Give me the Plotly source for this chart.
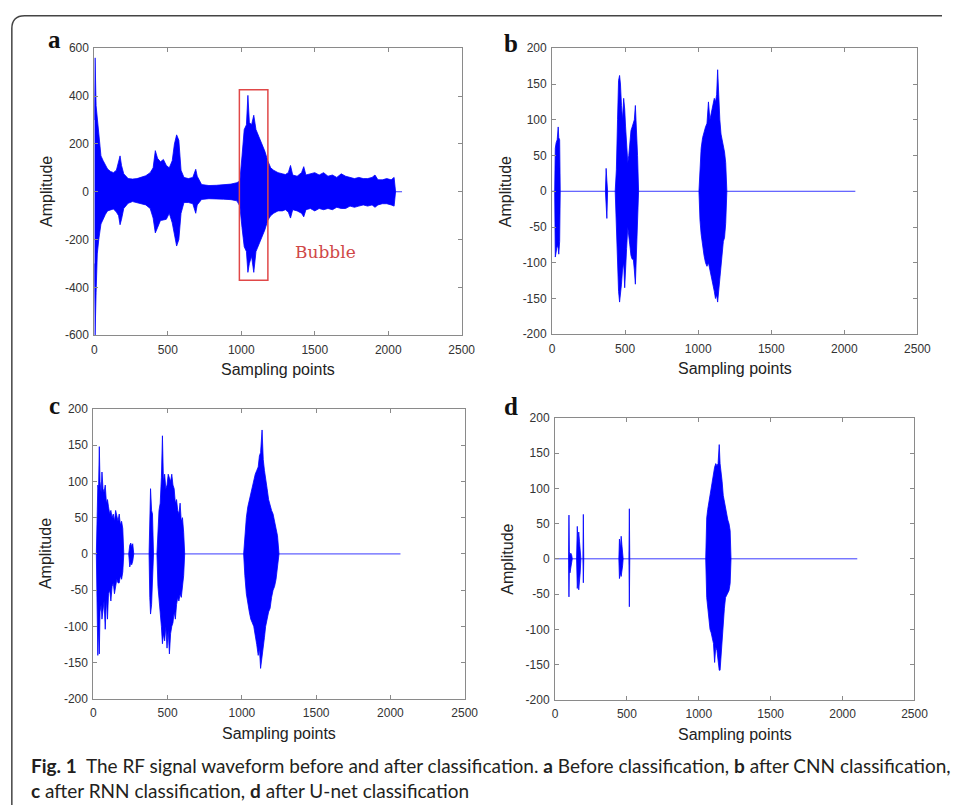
import plotly.graph_objects as go

W, H = 956, 812
BLUE = "#0000ff"

# ---------------- data (envelopes) ----------------
x_ticks = [0, 500, 1000, 1500, 2000, 2500]
x_ticktext = ["0", "500", "1000", "1500", "2000", "2500"]
ya_ticks = [-600, -400, -200, 0, 200, 400, 600]
ya_ticktext = ["-600", "-400", "-200", "0", "200", "400", "600"]
y_ticks = [-200, -150, -100, -50, 0, 50, 100, 150, 200]
y_ticktext = ["-200", "-150", "-100", "-50", "0", "50", "100", "150", "200"]

# Panel a: before classification (upper / lower envelope of the raw RF signal)
a_x = [0, 5, 12, 20, 30, 45, 60, 75, 90, 110, 130, 150, 165, 175, 185, 200, 230, 260, 290,
       320, 350, 380, 400, 415, 430, 450, 470, 490, 510, 530, 545, 560, 575, 590, 610, 640,
       670, 690, 700, 730, 780, 830, 880, 930, 970, 990, 1005, 1020, 1035, 1045, 1055, 1070,
       1085, 1100, 1120, 1140, 1160, 1180, 1190, 1200, 1220, 1250, 1280, 1300, 1320, 1335,
       1350, 1380, 1410, 1425, 1440, 1470, 1500, 1530, 1560, 1590, 1620, 1650, 1680, 1710,
       1740, 1770, 1800, 1830, 1860, 1890, 1910, 1930, 1960, 1990, 2020, 2040, 2050]
a_upper = [300, 560, 360, 300, 240, 150, 130, 110, 95, 85, 80, 90, 120, 150, 110, 75, 55, 53, 55,
           62, 67, 80, 100, 172, 140, 125, 135, 110, 100, 130, 200, 238, 215, 90, 60, 55,
           60, 94, 65, 30, 26, 27, 30, 32, 38, 45, 150, 260, 280, 403, 290, 280,
           320, 260, 230, 200, 170, 130, 110, 100, 90, 80, 75, 72, 80, 110,
           70, 65, 80, 105, 70, 75, 80, 70, 80, 65, 70, 60, 75, 65,
           60, 55, 60, 55, 55, 60, 70, 50, 50, 55, 50, 60, 0]
a_lower = [-300, -600, -420, -260, -200, -135, -115, -95, -80, -77, -72, -85, -100, -138, -115, -70, -48, -41, -45,
           -50, -55, -70, -110, -172, -150, -120, -118, -115, -90, -130, -180, -227, -200, -90, -45, -45,
           -50, -90, -55, -32, -29, -29, -31, -33, -38, -60, -150, -230, -250, -337, -300, -270,
           -337, -250, -220, -190, -160, -120, -110, -100, -90, -80, -80, -75, -85, -110,
           -75, -80, -90, -105, -75, -70, -80, -70, -75, -70, -75, -65, -70, -70,
           -60, -65, -60, -55, -60, -55, -65, -55, -50, -50, -55, -60, 0]
a_zero_end = 2094
a_box_x = [987, 1181]
a_box_y = [-370, 427]

# Panel b: after CNN classification (bursts)
b_x = [
    [18, 22, 28, 35, 42, 46, 52, 56],
    [365, 370, 375, 380],
    [432, 440, 448, 455, 462, 468, 475, 482, 490, 497, 503, 510, 518, 525, 532, 540, 548, 556,
     563, 570, 577, 585, 592],
    [1005, 1012, 1020, 1030, 1040, 1050, 1060, 1070, 1080, 1090, 1100, 1110, 1118, 1126, 1133,
     1140, 1148, 1156, 1165, 1172, 1180, 1188, 1196],
]
b_upper = [
    [0, 60, 68, 72, 90, 75, 72, 0],
    [0, 32, 15, 0],
    [0, 30, 100, 155, 162, 150, 120, 100, 130, 115, 90, 60, 40, 50, 70, 85, 90, 95,
     100, 120, 90, 50, 0],
    [0, 40, 60, 75, 85, 90, 95, 125, 100, 110, 120, 130, 125, 135, 170,
     130, 100, 80, 70, 60, 55, 40, 0],
]
b_lower = [
    [0, -92, -85, -75, -80, -88, -70, 0],
    [0, -20, -38, 0],
    [0, -30, -90, -140, -155, -150, -130, -110, -100, -135, -120, -80, -50, -60, -75, -90, -95, -95,
     -110, -130, -100, -50, 0],
    [0, -40, -60, -75, -90, -100, -105, -100, -110, -120, -130, -140, -150, -145, -155,
     -140, -120, -100, -85, -70, -65, -45, 0],
]
b_zero_end = 2075

# Panel c: after RNN classification (bursts)
c_x = [
    [20, 25, 30, 35, 40, 45, 52, 58, 65, 72, 80, 88, 95, 102, 110, 118, 126, 134, 142, 150, 158,
     166, 174, 182, 190, 198, 205],
    [238, 245, 252, 258, 265, 272],
    [375, 380, 385, 392, 398, 405],
    [428, 435, 442, 450, 458, 465, 472, 480, 488, 496, 504, 512, 520, 528, 536, 544, 552, 560,
     568, 576, 584, 592, 600, 608, 615],
    [1012, 1020, 1030, 1040, 1050, 1060, 1070, 1080, 1090, 1100, 1110, 1118, 1126, 1136, 1144,
     1152, 1160, 1170, 1180, 1190, 1200, 1210, 1220, 1230, 1240, 1250],
]
c_upper = [
    [0, 60, 95, 90, 148, 100, 85, 113, 90, 85, 95, 70, 75, 65, 55, 60, 50, 55, 45, 60, 50,
     45, 55, 40, 45, 35, 0],
    [0, 12, 15, 10, 14, 0],
    [0, 70, 90, 60, 55, 0],
    [0, 40, 60, 70, 105, 163, 100, 110, 90, 95, 110, 105, 100, 110, 95, 90, 70, 75,
     60, 55, 70, 45, 50, 30, 0],
    [0, 30, 50, 65, 75, 80, 90, 100, 110, 115, 120, 135, 140, 171, 130,
     115, 100, 90, 75, 65, 60, 55, 45, 35, 25, 0],
]
c_lower = [
    [0, -80, -140, -100, -138, -80, -70, -90, -75, -65, -104, -60, -90, -55, -50, -65, -45, -40,
     -55, -45, -35, -40, -40, -30, -35, -25, 0],
    [0, -18, -12, -15, -10, 0],
    [0, -60, -83, -70, -50, 0],
    [0, -45, -60, -80, -100, -124, -110, -120, -100, -130, -105, -138, -110, -100, -95, -80, -90, -70,
     -60, -65, -55, -60, -50, -30, 0],
    [0, -30, -55, -70, -80, -90, -95, -100, -110, -125, -140, -130, -158, -145, -130,
     -115, -100, -90, -80, -75, -60, -50, -45, -35, -20, 0],
]
c_zero_end = 2068

# Panel d: after U-net classification (bursts)
d_x = [
    [94, 97, 100, 104, 110, 116, 120],
    [150, 155, 160, 165, 170, 175, 180],
    [194, 197, 200],
    [444, 448, 455, 460, 465, 470, 474],
    [514, 517, 520],
    [1048, 1055, 1062, 1070, 1078, 1086, 1094, 1102, 1110, 1118, 1126, 1134, 1142, 1148, 1155,
     1162, 1170, 1178, 1186, 1194, 1202, 1210, 1218, 1224],
]
d_upper = [
    [0, 62, 10, 5, 8, 5, 0],
    [0, 46, 20, 38, 25, 15, 0],
    [0, 63, 0],
    [0, 28, 15, 32, 20, 10, 0],
    [0, 71, 0],
    [0, 58, 70, 80, 95, 105, 110, 120, 130, 135, 132, 135, 162, 135, 125,
     110, 90, 80, 70, 60, 55, 50, 40, 0],
]
d_lower = [
    [0, -54, -10, -20, -8, -5, 0],
    [0, -42, -25, -44, -30, -20, 0],
    [0, -34, 0],
    [0, -28, -20, -25, -15, -10, 0],
    [0, -68, 0],
    [0, -55, -70, -85, -100, -105, -110, -120, -147, -125, -130, -140, -158, -158, -130,
     -110, -90, -70, -55, -50, -48, -45, -35, 0],
]
d_zero_end = 2102

# ---------------- layout geometry (pixels) ----------------
panels = {
    # name: (x0, x1, ytop, ybottom) in pixels
    "a": (93, 467, 42, 334),
    "b": (559, 931, 42, 333),
    "c": (92, 470, 409, 704),
    "d": (562, 928, 418, 705),
}


def px_x(p):
    return p / W


def px_y(p):
    return 1 - p / H


fig = go.Figure()


def add_zero(ax, end):
    fig.add_trace(go.Scatter(x=[0, end], y=[0, 0], mode="lines",
                             line=dict(color="#3a3aff", width=1), hoverinfo="skip",
                             xaxis=ax[0], yaxis=ax[1], showlegend=False))


def add_burst(ax, xs, up, lo):
    fig.add_trace(go.Scatter(x=list(xs) + list(xs)[::-1], y=list(up) + list(lo)[::-1],
                             mode="lines", fill="toself", fillcolor=BLUE,
                             line=dict(color=BLUE, width=0.8), hoverinfo="skip",
                             xaxis=ax[0], yaxis=ax[1], showlegend=False))


axes = {"a": ("x", "y"), "b": ("x2", "y2"), "c": ("x3", "y3"), "d": ("x4", "y4")}

add_zero(axes["a"], a_zero_end)
add_burst(axes["a"], a_x, a_upper, a_lower)
for name, xs_l, up_l, lo_l, end in [("b", b_x, b_upper, b_lower, b_zero_end),
                                    ("c", c_x, c_upper, c_lower, c_zero_end),
                                    ("d", d_x, d_upper, d_lower, d_zero_end)]:
    add_zero(axes[name], end)
    for xs, up, lo in zip(xs_l, up_l, lo_l):
        add_burst(axes[name], xs, up, lo)

TICKFONT = dict(family="Liberation Sans, Arial, sans-serif", size=12, color="#333333")
AXCOL = "#8a8a8a"

layout = dict(width=W, height=H, margin=dict(l=0, r=0, t=0, b=0),
              paper_bgcolor="white", plot_bgcolor="white", showlegend=False)

for i, name in enumerate(["a", "b", "c", "d"]):
    sfx = "" if i == 0 else str(i + 1)
    x0, x1, yt, yb = panels[name]
    yt_vals = ya_ticks if name == "a" else y_ticks
    yt_text = ya_ticktext if name == "a" else y_ticktext
    yr = [-600, 600] if name == "a" else [-200, 200]
    layout["xaxis" + sfx] = dict(domain=[px_x(x0), px_x(x1)], anchor="y" + sfx, range=[0, 2500],
                                 tickvals=x_ticks, ticktext=x_ticktext, ticks="inside", ticklen=4,
                                 tickcolor=AXCOL, showline=True, linecolor=AXCOL, linewidth=1,
                                 mirror="ticks", showgrid=False, zeroline=False,
                                 tickfont=TICKFONT, ticklabelstandoff=3)
    layout["yaxis" + sfx] = dict(domain=[px_y(yb), px_y(yt)], anchor="x" + sfx, range=yr,
                                 tickvals=yt_vals, ticktext=yt_text, ticks="inside", ticklen=4,
                                 tickcolor=AXCOL, showline=True, linecolor=AXCOL, linewidth=1,
                                 mirror="ticks", showgrid=False, zeroline=False,
                                 tickfont=TICKFONT, ticklabelstandoff=2)

fig.update_layout(**layout)

annotations = []
TITLEFONT = dict(family="Liberation Sans, Arial, sans-serif", size=16, color="#222222")
for name in ["a", "b", "c", "d"]:
    x0, x1, yt, yb = panels[name]
    annotations.append(dict(text="Sampling points", x=px_x((x0 + x1) / 2), y=px_y(yb + 35),
                            xref="paper", yref="paper", showarrow=False, font=TITLEFONT,
                            xanchor="center", yanchor="middle"))
    annotations.append(dict(text="Amplitude", x=px_x(x0 - 48), y=px_y((yt + yb) / 2),
                            xref="paper", yref="paper", showarrow=False, font=TITLEFONT,
                            textangle=-90, xanchor="center", yanchor="middle"))

letter_pos = {"a": (52, 33), "b": (517, 37), "c": (52, 405), "d": (517, 407)}
for name, (lx, ly) in letter_pos.items():
    annotations.append(dict(text="<b>%s</b>" % name, x=px_x(lx), y=px_y(ly), xref="paper",
                            yref="paper", showarrow=False,
                            font=dict(family="Liberation Serif, Times New Roman, serif", size=25,
                                      color="#111111"),
                            xanchor="center", yanchor="middle"))

annotations.append(dict(text="Bubble", x=1571, y=-252, xref="x", yref="y", showarrow=False,
                        font=dict(family="DejaVu Serif, serif", size=17, color="#d04848"),
                        xanchor="center", yanchor="middle"))

CAPFONT = dict(family="Lato, Open Sans, sans-serif", size=19, color="#231f20")
annotations.append(dict(text="<b>Fig. 1</b>  The RF signal waveform before and after classification. "
                             "<b>a</b> Before classification, <b>b</b> after CNN classification,",
                        x=px_x(26), y=px_y(772), xref="paper", yref="paper", showarrow=False,
                        font=CAPFONT, xanchor="left", yanchor="middle"))
annotations.append(dict(text="<b>c</b> after RNN classification, <b>d</b> after U-net classification",
                        x=px_x(26), y=px_y(797), xref="paper", yref="paper", showarrow=False,
                        font=CAPFONT, xanchor="left", yanchor="middle"))

shapes = [
    dict(type="rect", xref="x", yref="y", x0=a_box_x[0], x1=a_box_x[1], y0=a_box_y[0],
         y1=a_box_y[1], line=dict(color="#e04848", width=1.5)),
    dict(type="path", xref="paper", yref="paper",
         path="M %f,0 L %f,%f Q %f,%f %f,%f L 1,%f" % (
             px_x(9), px_x(9), px_y(22), px_x(9), px_y(9), px_x(22), px_y(9), px_y(9)),
         line=dict(color="#444444", width=1.5)),
]

fig.update_layout(annotations=annotations, shapes=shapes)
fig.write_html("out.html")
